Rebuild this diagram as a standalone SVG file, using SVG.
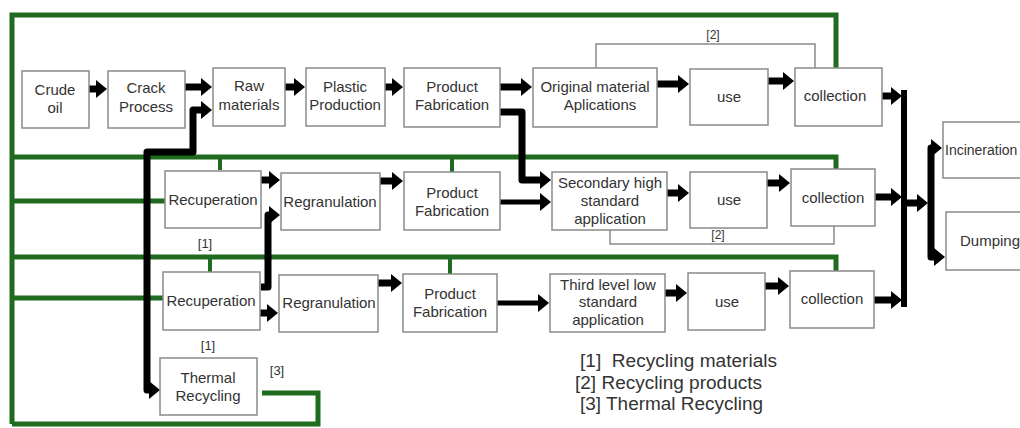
<svg xmlns="http://www.w3.org/2000/svg" width="1020" height="428" viewBox="0 0 1020 428">
<defs>
<style>
.box{fill:#fff;stroke:#8a8a8a;stroke-width:1.5}
.t{font-family:"Liberation Sans",Arial,sans-serif;font-size:15px;fill:#333;text-anchor:middle}
.lbl{font-family:"Liberation Sans",Arial,sans-serif;font-size:13px;fill:#333;text-anchor:middle}
.leg{font-family:"Liberation Sans",Arial,sans-serif;font-size:17.5px;fill:#333}
.g{fill:none;stroke:#1f6b1f;stroke-width:5}
.gt{fill:none;stroke:#1f6b1f;stroke-width:4}
.thin{fill:none;stroke:#8a8a8a;stroke-width:1.5}
.a{fill:none;stroke:#000;stroke-width:7;stroke-linejoin:round;marker-end:url(#ah)}
.b{fill:none;stroke:#000;stroke-width:6;stroke-linejoin:round}
</style>
<marker id="ah" markerUnits="userSpaceOnUse" markerWidth="12" markerHeight="18" refX="1" refY="9" orient="auto-start-reverse"><path d="M0,0 L11,9 L0,18 z" fill="#000"/></marker>
</defs>
<rect width="1020" height="428" fill="#fff"/>
<g id="connectors">
<path class="g" d="M12,424 V15 H836 V68"/>
<path class="g" d="M262,393 H318 V424 H12"/>
<path class="g" d="M12,157 H836 V169"/>
<path class="gt" d="M220,157 V170 M452,157 V172"/>
<path class="g" d="M12,201 H165"/>
<path class="g" d="M12,257 H836 V271"/>
<path class="gt" d="M210,257 V272 M450,257 V274"/>
<path class="g" d="M12,298 H163"/>
<path class="thin" d="M596,68 V44 H815 V68"/>
<path class="thin" d="M610,230 V244 H834 V226"/>
<path class="a" d="M89,89 H97"/>
<path class="a" d="M185,87 H202"/>
<path class="a" d="M285,87 H295"/>
<path class="a" d="M385,87 H393"/>
<path class="a" d="M500,87 H522"/>
<path class="a" d="M657,84 H679"/>
<path class="a" d="M768,81 H784"/>
<path class="a" d="M150,390 H147 V152 H193 V110 H202" style="marker-start:url(#ah)"/>
<path class="a" d="M500,112 H522 V180 H541"/>
<path class="a" d="M261,180 H270"/>
<path class="a" d="M261,287 H268 V215 H270"/>
<path class="a" d="M380,181 H393"/>
<path class="a" d="M500,202 H541" style="stroke-width:5"/>
<path class="a" d="M667,193 H679"/>
<path class="a" d="M767,183 H780"/>
<path class="a" d="M260,313 H268"/>
<path class="a" d="M378,283 H392"/>
<path class="a" d="M497,303 H539" style="stroke-width:5"/>
<path class="a" d="M665,293 H677"/>
<path class="a" d="M765,286 H779"/>
<path class="a" d="M882,96 H892"/>
<path class="a" d="M875,197 H892"/>
<path class="a" d="M874,300 H892"/>
<path class="b" d="M904,90 V307"/>
<path class="a" d="M904,203 H918"/>
<path class="a" d="M931,203 V148 H932"/>
<path class="a" d="M931,203 V257 H935"/>
</g>
<g id="crude-oil"><rect class="box" x="22" y="71" width="67" height="57"/><text class="t" x="55" y="95">Crude</text><text class="t" x="55" y="113">oil</text></g>
<g id="crack-process"><rect class="box" x="108" y="71" width="77" height="57"/><text class="t" x="146" y="93">Crack</text><text class="t" x="146" y="112">Process</text></g>
<g id="raw-materials"><rect class="box" x="213" y="68" width="72" height="58"/><text class="t" x="249" y="91">Raw</text><text class="t" x="249" y="110">materials</text></g>
<g id="plastic-production"><rect class="box" x="306" y="68" width="79" height="58"/><text class="t" x="345" y="92">Plastic</text><text class="t" x="345" y="110">Production</text></g>
<g id="product-fabrication-1"><rect class="box" x="404" y="68" width="96" height="59"/><text class="t" x="452" y="92">Product</text><text class="t" x="452" y="110">Fabrication</text></g>
<g id="original-material"><rect class="box" x="533" y="68" width="124" height="59"/><text class="t" x="595" y="92">Original material</text><text class="t" x="600" y="110">Aplications</text></g>
<g id="use-1"><rect class="box" x="690" y="69" width="78" height="56"/><text class="t" x="729" y="102">use</text></g>
<g id="collection-1"><rect class="box" x="795" y="68" width="87" height="58"/><text class="t" x="835" y="101">collection</text></g>
<g id="recuperation-1"><rect class="box" x="165" y="171" width="96" height="57"/><text class="t" x="213" y="205">Recuperation</text></g>
<g id="regranulation-1"><rect class="box" x="281" y="173" width="99" height="57"/><text class="t" x="330" y="207">Regranulation</text></g>
<g id="product-fabrication-2"><rect class="box" x="404" y="172" width="96" height="58"/><text class="t" x="452" y="198">Product</text><text class="t" x="452" y="216">Fabrication</text></g>
<g id="secondary-high"><rect class="box" x="552" y="172" width="115" height="58"/><text class="t" x="610" y="188">Secondary high</text><text class="t" x="610" y="206">standard</text><text class="t" x="610" y="224">application</text></g>
<g id="use-2"><rect class="box" x="690" y="172" width="77" height="56"/><text class="t" x="729" y="205">use</text></g>
<g id="collection-2"><rect class="box" x="791" y="169" width="84" height="57"/><text class="t" x="833" y="203">collection</text></g>
<g id="recuperation-2"><rect class="box" x="163" y="272" width="97" height="58"/><text class="t" x="211" y="306">Recuperation</text></g>
<g id="regranulation-2"><rect class="box" x="279" y="275" width="99" height="57"/><text class="t" x="329" y="308">Regranulation</text></g>
<g id="product-fabrication-3"><rect class="box" x="403" y="274" width="94" height="58"/><text class="t" x="450" y="299">Product</text><text class="t" x="450" y="317">Fabrication</text></g>
<g id="third-level-low"><rect class="box" x="550" y="274" width="115" height="58"/><text class="t" x="608" y="290">Third level low</text><text class="t" x="608" y="307">standard</text><text class="t" x="608" y="325">application</text></g>
<g id="use-3"><rect class="box" x="688" y="273" width="77" height="57"/><text class="t" x="727" y="307">use</text></g>
<g id="collection-3"><rect class="box" x="790" y="271" width="84" height="57"/><text class="t" x="832" y="304">collection</text></g>
<g id="thermal-recycling"><rect class="box" x="160" y="358" width="97" height="57"/><text class="t" x="208" y="383">Thermal</text><text class="t" x="208" y="401">Recycling</text></g>
<g id="incineration"><rect class="box" x="943" y="122" width="90" height="56"/><text class="t" x="945" y="155" style="text-anchor:start;font-size:14px">Incineration</text></g>
<g id="dumping"><rect class="box" x="946" y="212" width="90" height="58"/><text class="t" x="960" y="246" style="text-anchor:start">Dumping</text></g>
<g id="labels">
<text class="lbl" x="713" y="39" style="font-size:12px">[2]</text>
<text class="lbl" x="718" y="239" style="font-size:12px">[2]</text>
<text class="lbl" x="205" y="248">[1]</text>
<text class="lbl" x="208" y="350">[1]</text>
<text class="lbl" x="277" y="375">[3]</text>
<text class="leg" x="580" y="367" xml:space="preserve" textLength="197" lengthAdjust="spacingAndGlyphs">[1]  Recycling materials</text>
<text class="leg" x="575" y="389" textLength="187" lengthAdjust="spacingAndGlyphs">[2] Recycling products</text>
<text class="leg" x="580" y="410" textLength="183" lengthAdjust="spacingAndGlyphs">[3] Thermal Recycling</text>
</g>
</svg>
